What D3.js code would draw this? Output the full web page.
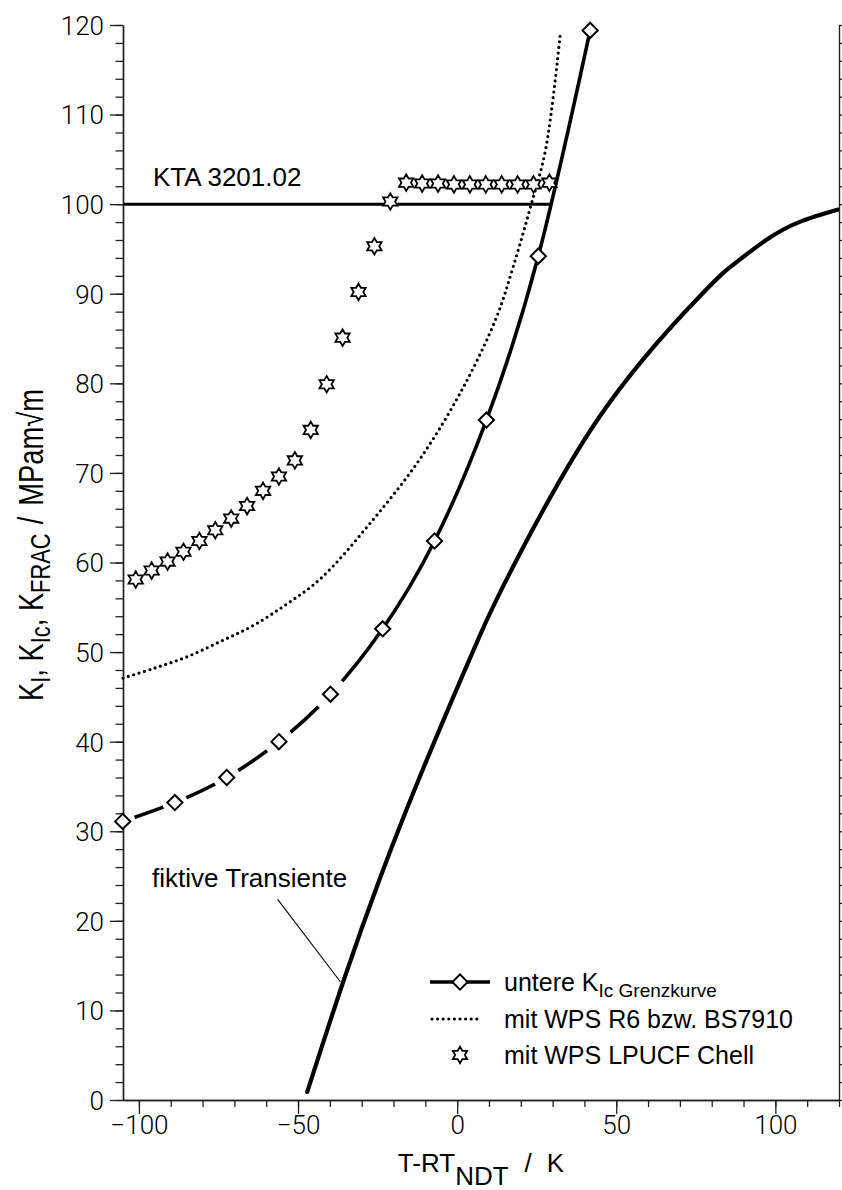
<!DOCTYPE html>
<html>
<head>
<meta charset="utf-8">
<script src="https://cdn.jsdelivr.net/npm/d3@7"></script>
<style>
  body { margin: 0; background: #fff; }
  svg { display: block; }
  text { font-family: "Liberation Sans", Arial, sans-serif; fill: #000; }
  .tick text { font-family: Roboto, "Liberation Sans", sans-serif; font-weight: 300; font-size: 26px; }
</style>
</head>
<body>
<svg id="chart" width="842" height="1190"></svg>
<script>
// Lower KIc limit curve (diamond markers)
const kicT = [-105.1, -88.7, -72.4, -56.0, -39.8, -23.4, -7.1, 9.2, 25.5, 41.8];
const kicK = [31.1, 33.2, 36.0, 40.0, 45.3, 52.6, 62.4, 75.9, 94.2, 119.4];

// WPS curve after R6 / BS7910
const r6T = [-105.0, -95.2, -84.7, -74.3, -63.9, -53.4, -42.9, -27.3, -11.6, 2.0, 12.4, 17.6, 22.9, 27.8, 32.5];
const r6K = [47.1, 48.2, 49.5, 51.2, 53.0, 55.4, 58.2, 64.4, 71.6, 79.6, 87.4, 93.0, 99.5, 106.1, 119.3];

// WPS after LPUCF (Chell), single points
const chellT = [-101, -96, -91, -86, -81, -76, -71, -66, -61, -56, -51, -46, -41, -36, -31, -26, -21,
                -16, -11, -6, -1, 4, 9, 14, 19, 24, 29];
const chellK = [58.1, 59.1, 60.1, 61.2, 62.4, 63.6, 64.9, 66.3, 68.0, 69.6, 71.4, 74.8, 79.9, 85.1, 90.2, 95.3, 100.3,
                102.4, 102.3, 102.3, 102.2, 102.2, 102.2, 102.2, 102.2, 102.2, 102.4];

// Fictitious transient
const trT = [-47.1, -35.8, -24.1, -9.5, 7.2, 17.1, 44.8, 76.2, 86.6, 97.1, 107.5, 119.7];
const trK = [0.9, 13.2, 24.9, 38.0, 51.9, 59.2, 76.3, 89.7, 93.2, 96.0, 98.0, 99.4];

// KTA 3201.02 limit
const ktaT = [-105, 29.7];
const ktaK = [100, 100];

// Leader line of the transient label
const leaderT = [-56.4, -36.7];
const leaderK = [22.4, 13.2];

const xDomain = [-105, 120];
const yDomain = [0, 120];
const xMajor = [-100, -50, 0, 50, 100];
const xMinor = d3.range(-100, 121, 10);
const yMajor = d3.range(0, 121, 10);
const yMinor = d3.range(0, 121, 2);

const legendLabels = ["mit WPS R6 bzw. BS7910", "mit WPS LPUCF Chell"];

const svg = d3.select("#chart");
const x = d3.scaleLinear().domain(xDomain).range([123, 839]);
const y = d3.scaleLinear().domain(yDomain).range([1100, 25]);

const smooth = d3.line().x(d => x(d[0])).y(d => y(d[1])).curve(d3.curveNatural);
const rounded = d3.line().x(d => x(d[0])).y(d => y(d[1])).curve(d3.curveCatmullRom.alpha(0.5));
const straight = d3.line().x(d => x(d[0])).y(d => y(d[1]));

svg.append("defs").append("clipPath").attr("id", "plotClip")
  .append("rect").attr("x", x(xDomain[0]) - 2).attr("y", y(yDomain[1]) - 2)
  .attr("width", x(xDomain[1]) - x(xDomain[0]) + 4).attr("height", y(0) - y(yDomain[1]) + 4);

const plot = svg.append("g").attr("clip-path", "url(#plotClip)");

// KTA horizontal limit
plot.append("path").datum(d3.zip(ktaT, ktaK)).attr("d", straight)
  .attr("fill", "none").attr("stroke", "#000").attr("stroke-width", 3);

// transient
plot.append("path").datum(d3.zip(trT, trK)).attr("d", smooth)
  .attr("fill", "none").attr("stroke", "#000").attr("stroke-width", 4.2).attr("stroke-linecap", "round");

// R6 / BS7910 dotted curve
plot.append("path").datum(d3.zip(r6T, r6K)).attr("d", rounded)
  .attr("fill", "none").attr("stroke", "#000").attr("stroke-width", 3.2)
  .attr("stroke-dasharray", "0 5.6").attr("stroke-linecap", "round");

// lower KIc curve
plot.append("path").datum(d3.zip(kicT, kicK)).attr("d", smooth)
  .attr("fill", "none").attr("stroke", "#000").attr("stroke-width", 3.6);

// broken line pattern around the lower diamonds
const gapR = [12.5, 12.5, 13.5, 15, 17.5];
plot.selectAll("circle.gap").data(d3.zip(kicT, kicK).slice(0, gapR.length)).join("circle")
  .attr("class", "gap").attr("cx", d => x(d[0])).attr("cy", d => y(d[1]))
  .attr("r", (d, i) => gapR[i]).attr("fill", "#fff");

// leader line
plot.append("path").datum(d3.zip(leaderT, leaderK)).attr("d", straight)
  .attr("stroke", "#000").attr("stroke-width", 1.1);

// axes
function styleAxis(g) {
  g.select(".domain").attr("stroke", "#222").attr("stroke-width", 1.4);
  g.selectAll(".tick line").attr("stroke", "#222").attr("stroke-width", 1.3);
}
svg.append("g").attr("transform", `translate(${x(xDomain[0])},0)`)
  .call(d3.axisLeft(y).tickValues(yMinor).tickSize(7.5).tickSizeOuter(0).tickFormat(""))
  .call(styleAxis);
svg.append("g").attr("transform", `translate(${x(xDomain[0])},0)`)
  .call(d3.axisLeft(y).tickValues(yMajor).tickSize(13).tickSizeOuter(0).tickPadding(6))
  .call(styleAxis)
  .call(g => g.selectAll(".tick text").attr("x", -19).attr("dy", "0.36em"));
svg.append("g").attr("transform", `translate(${x(xDomain[1])},0)`)
  .call(d3.axisRight(y).tickValues(yMinor).tickSize(7).tickSizeOuter(0).tickFormat(""))
  .call(styleAxis);
svg.append("g").attr("transform", `translate(0,${y(0)})`)
  .call(d3.axisBottom(x).tickValues(xMinor).tickSize(7).tickSizeOuter(0).tickFormat(""))
  .call(styleAxis);
svg.append("g").attr("transform", `translate(0,${y(0)})`)
  .call(d3.axisBottom(x).tickValues(xMajor).tickSize(14).tickSizeOuter(0))
  .call(styleAxis)
  .call(g => g.selectAll(".tick text").attr("y", 34).attr("dy", null));

// markers
const diamond = r => `M0,${-r}L${r},0L0,${r}L${-r},0Z`;
function star(r) {
  const ri = r / Math.sqrt(3);
  const pts = d3.range(12).map(i => {
    const a = -Math.PI / 2 + i * Math.PI / 6, rr = i % 2 ? ri : r;
    return [rr * Math.cos(a), rr * Math.sin(a)];
  });
  return "M" + pts.map(p => p[0].toFixed(2) + "," + p[1].toFixed(2)).join("L") + "Z";
}

svg.append("g").selectAll("path").data(d3.zip(chellT, chellK)).join("path")
  .attr("transform", d => `translate(${x(d[0])},${y(d[1])})`)
  .attr("d", star(8.3)).attr("fill", "#fff").attr("stroke", "#000").attr("stroke-width", 1.8);

svg.append("g").selectAll("path").data(d3.zip(kicT, kicK)).join("path")
  .attr("transform", d => `translate(${x(d[0])},${y(d[1])})`)
  .attr("d", diamond(7.6)).attr("fill", "#fff").attr("stroke", "#000").attr("stroke-width", 2);

// annotations
svg.append("text").attr("x", 153).attr("y", 186).attr("font-size", 26).text("KTA 3201.02");
svg.append("text").attr("x", 152).attr("y", 887).attr("font-size", 26).text("fiktive Transiente");

// legend
const lg = svg.append("g");
lg.append("line").attr("x1", 430).attr("x2", 490).attr("y1", 982).attr("y2", 982)
  .attr("stroke", "#000").attr("stroke-width", 3.6);
lg.append("path").attr("transform", "translate(460,982)").attr("d", diamond(7.6))
  .attr("fill", "#fff").attr("stroke", "#000").attr("stroke-width", 2);
const t1 = lg.append("text").attr("x", 504).attr("y", 991).attr("font-size", 25);
t1.append("tspan").text("untere K");
t1.append("tspan").attr("dy", 6).attr("font-size", 19).text("Ic Grenzkurve");

lg.append("line").attr("x1", 432).attr("x2", 480).attr("y1", 1019).attr("y2", 1019)
  .attr("stroke", "#000").attr("stroke-width", 3.2).attr("stroke-dasharray", "0 5.6").attr("stroke-linecap", "round");
lg.append("text").attr("x", 504).attr("y", 1028).attr("font-size", 25).text(legendLabels[0]);

lg.append("path").attr("transform", "translate(460,1055)").attr("d", star(8.3))
  .attr("fill", "#fff").attr("stroke", "#000").attr("stroke-width", 1.8);
lg.append("text").attr("x", 504).attr("y", 1064).attr("font-size", 25).text(legendLabels[1]);

// axis titles
const xt = svg.append("text").attr("x", 481).attr("y", 1172).attr("text-anchor", "middle").attr("font-size", 26);
xt.append("tspan").text("T-RT");
xt.append("tspan").attr("dy", 13).text("NDT");
xt.append("tspan").attr("dy", -13).attr("dx", 16).text("/");
xt.append("tspan").attr("dx", 15).text("K");

const yt = svg.append("text").attr("transform", "translate(43,545) rotate(-90) scale(0.78,1)")
  .attr("text-anchor", "middle").attr("font-size", 35);
yt.append("tspan").text("K");
yt.append("tspan").attr("dy", 7).attr("font-size", 28).text("I");
yt.append("tspan").attr("dy", -7).text(", K");
yt.append("tspan").attr("dy", 7).attr("font-size", 28).text("Ic");
yt.append("tspan").attr("dy", -7).text(", K");
yt.append("tspan").attr("dy", 7).attr("font-size", 28).text("FRAC");
yt.append("tspan").attr("dy", -7).attr("dx", 12).text("/");
yt.append("tspan").attr("dx", 14).text("MPam√m");
</script>
</body>
</html>
